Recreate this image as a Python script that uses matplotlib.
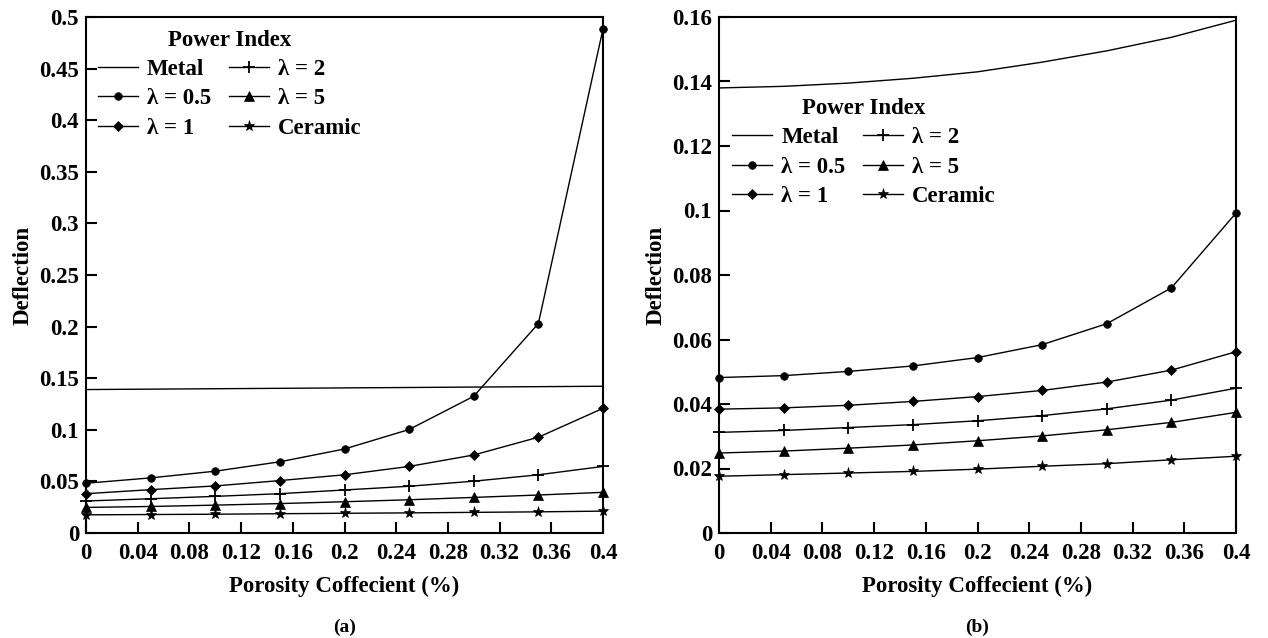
import matplotlib
matplotlib.use("Agg")
import matplotlib.pyplot as plt
import numpy as np

plt.rcParams['font.family'] = ['Liberation Serif', 'DejaVu Serif']
plt.rcParams['font.weight'] = 'bold'

porosity = [0, 0.05, 0.1, 0.15, 0.2, 0.25, 0.3, 0.35, 0.4]
labels = ["Metal", "λ = 0.5", "λ = 1", "λ = 2", "λ = 5", "Ceramic"]
markers = [None, "o", "D", "+", "^", "*"]
msizes = [0, 5.5, 5.5, 8.5, 6.5, 8]

# panel (a)
a_metal = [0.1390, 0.1394, 0.1398, 0.1402, 0.1406, 0.1410, 0.1414, 0.1418, 0.1422]
a_l05 = [0.0482, 0.0534, 0.0599, 0.0690, 0.0814, 0.1003, 0.1325, 0.2030, 0.4885]
a_l1 = [0.0381, 0.0420, 0.0456, 0.0508, 0.0564, 0.0645, 0.0756, 0.0928, 0.1208]
a_l2 = [0.0310, 0.0332, 0.0355, 0.0381, 0.0417, 0.0453, 0.0502, 0.0564, 0.0645]
a_l5 = [0.0248, 0.0257, 0.0270, 0.0285, 0.0303, 0.0322, 0.0345, 0.0368, 0.0394]
a_cer = [0.0176, 0.0179, 0.0182, 0.0187, 0.0191, 0.0195, 0.0200, 0.0205, 0.0212]

# panel (b)
b_metal = [0.1380, 0.1385, 0.1395, 0.1410, 0.1430, 0.1460, 0.1495, 0.1537, 0.1590]
b_l05 = [0.0482, 0.0488, 0.0501, 0.0518, 0.0544, 0.0584, 0.0649, 0.0760, 0.0992]
b_l1 = [0.0384, 0.0388, 0.0396, 0.0408, 0.0423, 0.0442, 0.0468, 0.0505, 0.0562]
b_l2 = [0.0312, 0.0318, 0.0327, 0.0336, 0.0348, 0.0364, 0.0385, 0.0412, 0.0449]
b_l5 = [0.0248, 0.0254, 0.0263, 0.0273, 0.0286, 0.0301, 0.0320, 0.0343, 0.0374]
b_cer = [0.0176, 0.0181, 0.0186, 0.0191, 0.0198, 0.0207, 0.0215, 0.0227, 0.0238]

xticks = [0, 0.04, 0.08, 0.12, 0.16, 0.2, 0.24, 0.28, 0.32, 0.36, 0.4]
xticklabels = ["0", "0.04", "0.08", "0.12", "0.16", "0.2", "0.24", "0.28", "0.32", "0.36", "0.4"]
a_yticks = [0, 0.05, 0.1, 0.15, 0.2, 0.25, 0.3, 0.35, 0.4, 0.45, 0.5]
a_yticklabels = ["0", "0.05", "0.1", "0.15", "0.2", "0.25", "0.3", "0.35", "0.4", "0.45", "0.5"]
b_yticks = [0, 0.02, 0.04, 0.06, 0.08, 0.1, 0.12, 0.14, 0.16]
b_yticklabels = ["0", "0.02", "0.04", "0.06", "0.08", "0.1", "0.12", "0.14", "0.16"]

fig = plt.figure(figsize=(12.68, 6.38), dpi=100)
ax1 = fig.add_axes([86/1268, 105/638, 517/1268, 516/638])
ax2 = fig.add_axes([719/1268, 105/638, 517/1268, 516/638])

FS = 16.5

def draw(ax, series, yticks, yticklabels, ylim, legend_anchor, tag):
    for vals, lab, m, ms in zip(series, labels, markers, msizes):
        ax.plot(porosity, vals, color='black', lw=1.0, marker=m, ms=ms,
                mew=1.3 if m == '+' else 0.5, label=lab, clip_on=False, zorder=3)
    ax.set_xlim(0, 0.4)
    ax.set_ylim(*ylim)
    ax.set_xticks(xticks)
    ax.set_xticklabels(xticklabels, fontsize=FS, fontweight='bold')
    ax.set_yticks(yticks)
    ax.set_yticklabels(yticklabels, fontsize=FS, fontweight='bold')
    ax.tick_params(axis='x', pad=7)
    ax.tick_params(axis='y', pad=5)
    ax.tick_params(direction='in', length=8, width=1.5, top=False, right=False)
    for s in ax.spines.values():
        s.set_linewidth(1.5)
    ax.set_xlabel("Porosity Coffecient (%)", fontsize=FS, fontweight='bold', labelpad=9)
    ax.set_ylabel("Deflection", fontsize=FS, fontweight='bold', labelpad=4)
    leg = ax.legend(ncol=2, frameon=False,
                    title="Power Index", loc='upper left', bbox_to_anchor=legend_anchor,
                    prop={'size': FS, 'weight': 'bold'}, handlelength=1.75,
                    columnspacing=0.75, labelspacing=0.36, handletextpad=0.4,
                    borderaxespad=0, borderpad=0)
    leg.get_title().set_fontsize(FS)
    leg.get_title().set_fontweight('bold')
    ax.text(0.5, -0.182, tag, transform=ax.transAxes, ha='center', va='center',
            fontsize=14, fontweight='bold')

draw(ax1, [a_metal, a_l05, a_l1, a_l2, a_l5, a_cer], a_yticks, a_yticklabels,
     (0, 0.5), (0.023, 0.975), "(a)")
draw(ax2, [b_metal, b_l05, b_l1, b_l2, b_l5, b_cer], b_yticks, b_yticklabels,
     (0, 0.16), (0.025, 0.843), "(b)")

fig.savefig("out.png", dpi=100)
